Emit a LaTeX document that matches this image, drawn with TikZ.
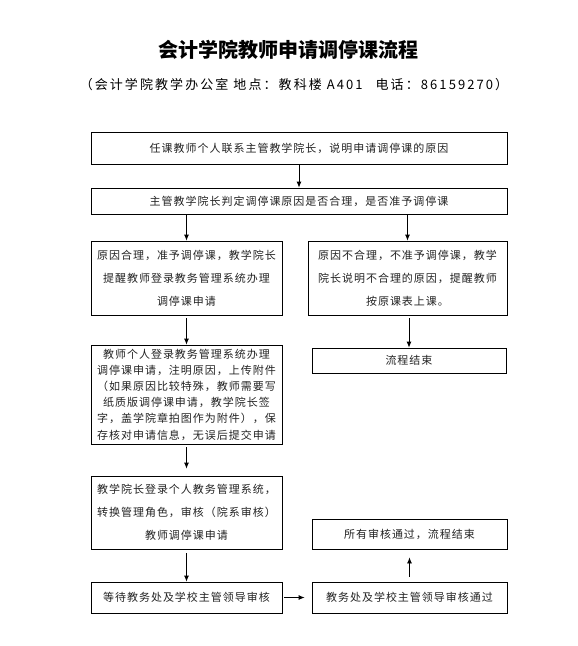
\documentclass[tikz,border=0pt]{standalone}
\usepackage{fontspec}
\usepackage{xcolor}
\usepackage{tikz}
\usetikzlibrary{arrows.meta,positioning}
\newfontfamily\cjk{Noto Sans CJK SC}
\newfontfamily\cjkwide[LetterSpace=9]{Noto Sans CJK SC}
\newfontfamily\cjksub[LetterSpace=16]{Noto Sans CJK SC}
\definecolor{cink}{HTML}{222222}

\begin{document}
\begin{tikzpicture}[x=1pt,y=-1pt,
  box/.style={rectangle,draw=black,line width=0.8pt,align=center,inner sep=2pt,
              text=cink,font=\cjkwide\fontsize{11}{23}\selectfont},
  dense/.style={font=\cjkwide\fontsize{11}{16.2}\selectfont},
  ar/.style={-{Latex[length=6pt,width=5pt]},line width=0.8pt,black},
  ln/.style={line width=0.8pt,black}]
\useasboundingbox (0,0) rectangle (578,646);
% title lines
\node (title) at (288,50) {\cjk\bfseries\fontsize{20}{23}\selectfont 会计学院教师申请调停课流程};
\node (sub) at (294,85) {\cjksub\fontsize{13}{15}\selectfont （会计学院教学办公室~地点：教科楼~A401\quad 电话：86159270）};
% boxes
\node[box,minimum width=416pt,minimum height=32pt] (ask)  at (299,148) {任课教师个人联系主管教学院长，说明申请调停课的原因};
\node[box,minimum width=416pt,minimum height=26pt] (judge) at (299,201) {主管教学院长判定调停课原因是否合理，是否准予调停课};
\node[box,minimum width=191pt,minimum height=74pt] (yes)  at (186.5,278) {原因合理，准予调停课，教学院长\\提醒教师登录教务管理系统办理\\调停课申请};
\node[box,minimum width=199pt,minimum height=74pt] (no)   at (407.5,278) {原因不合理，不准予调停课，教学\\院长说明不合理的原因，提醒教师\\按原课表上课。};
\node[box,minimum width=194pt,minimum height=25pt] (stop) at (409,360.5) {流程结束};
\node[box,dense,minimum width=191pt,minimum height=99pt] (apply) at (186.5,394.5) {教师个人登录教务管理系统办理\\调停课申请，注明原因，上传附件\\（如果原因比较特殊，教师需要写\\纸质版调停课申请，教学院长签\\字，盖学院章拍图作为附件），保\\存核对申请信息，无误后提交申请};
\node[box,minimum width=191pt,minimum height=73pt] (dean) at (186.5,512.5) {教学院长登录个人教务管理系统，\\转换管理角色，审核（院系审核）\\教师调停课申请};
\node[box,minimum width=191pt,minimum height=31pt] (wait) at (186.5,597.5) {等待教务处及学校主管领导审核};
\node[box,minimum width=195pt,minimum height=31pt] (pass) at (409.5,597.5) {教务处及学校主管领导审核通过};
\node[box,minimum width=195pt,minimum height=30pt] (done) at (409.5,534) {所有审核通过，流程结束};
% connectors
\draw[ar] (ask) -- (judge);
\draw[ar] (yes.north |- judge.south) -- (yes);
\draw[ar] (no.north |- judge.south) -- (no);
\draw[ar,shorten <=3pt] (yes) -- (apply);
\draw[ar,shorten <=3pt] (no.south -| stop) -- (stop);
\draw[ar,shorten <=3pt,shorten >=7pt] (apply) -- (dean);
\draw[ar,shorten <=4pt] (dean) -- (wait);
\draw[ar,shorten <=2pt,shorten >=7pt] (wait) -- (pass);
\draw[ar,shorten <=5pt,shorten >=8pt] (pass) -- (done);
\end{tikzpicture}
\end{document}
